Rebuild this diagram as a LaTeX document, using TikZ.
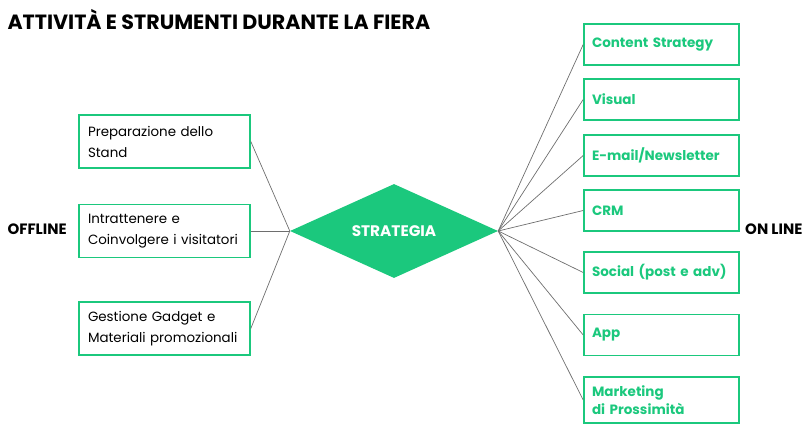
\documentclass[tikz,border=0pt]{standalone}
\usepackage{fontspec}
\setmainfont{Poppins}
\usetikzlibrary{shapes.geometric}
\definecolor{verde}{RGB}{27,200,125}
\definecolor{grigio}{RGB}{110,110,110}

\begin{document}
\begin{tikzpicture}[x=1pt, y=-1pt,
        offbox/.style={draw=verde, line width=1.6pt, minimum width=171pt, minimum height=53pt,
            inner xsep=9pt, inner ysep=0pt, text width=153pt, align=left,
            font=\fontsize{13.4}{21}\selectfont},
        onbox/.style={draw=verde, line width=1.6pt, minimum width=155pt, minimum height=41pt,
            inner xsep=8pt, inner ysep=0pt, text width=139pt, align=left, text=verde,
            font=\fontsize{13.5}{18}\selectfont\bfseries},
        conn/.style={draw=grigio, line width=0.7pt},
        side/.style={font=\fontsize{15}{15}\selectfont\bfseries}
    ]
    \useasboundingbox (0,0) rectangle (809,438);
    \node[anchor=base west, font=\fontsize{20.6}{22}\selectfont\bfseries] (titolo) at (4,30) {ATTIVITÀ E STRUMENTI DURANTE LA FIERA};

    \node[diamond, fill=verde, aspect=2.21, minimum width=208pt, minimum height=94pt, inner sep=0pt,
        text=white, font=\fontsize{15.3}{16}\selectfont\bfseries] (strat) at (394,231) {STRATEGIA};

    \node[offbox] (stand) at (164.5,141.5) {Preparazione dello\\Stand};
    \node[offbox] (intratt) at (164.5,231) {Intrattenere e\\Coinvolgere i visitatori};
    \node[offbox] (gadget) at (164.5,328.5) {Gestione Gadget e\\Materiali promozionali};

    \node[onbox] (content) at (661.5,44.5) {Content Strategy};
    \node[onbox] (visual) at (661.5,99.5) {Visual};
    \node[onbox] (email) at (661.5,155.5) {E-mail/Newsletter};
    \node[onbox] (crm) at (661.5,210.5) {CRM};
    \node[onbox] (social) at (661.5,272.5) {Social (post e adv)};
    \node[onbox] (app) at (661.5,335) {App};
    \node[onbox, minimum height=46pt] (mkt) at (661.5,400) {Marketing\\di Prossimità};

    \node[side, anchor=west] (offline) at (4,229) {OFFLINE};
    \node[side, anchor=east] (online) at (806,229) {ON LINE};

    \foreach \b in {stand, intratt, gadget}
        \draw[conn] (\b.east) -- (strat.west);
    \foreach \b in {content, visual, email, crm, social, app, mkt}
        \draw[conn] (strat.east) -- (\b.west);
\end{tikzpicture}
\end{document}
